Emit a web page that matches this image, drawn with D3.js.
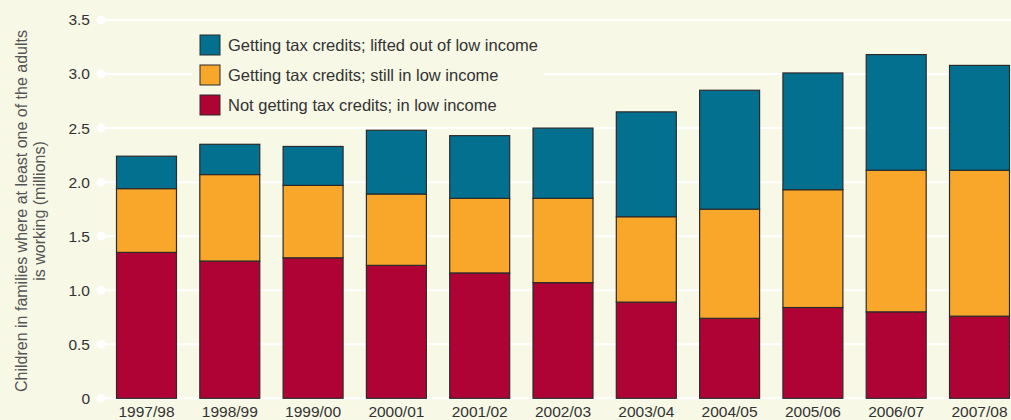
<!DOCTYPE html>
<html>
<head>
<meta charset="utf-8">
<script src="https://cdn.jsdelivr.net/npm/d3@7"></script>
<style>
  html, body { margin: 0; padding: 0; background: #f7f8e6; }
  svg { display: block; font-family: "Liberation Sans", Arial, sans-serif; }
</style>
</head>
<body>
<div id="chart"></div>
<script>
const years = ["1997/98", "1998/99", "1999/00", "2000/01", "2001/02", "2002/03",
               "2003/04", "2004/05", "2005/06", "2006/07", "2007/08"];
const notGetting = [1.35, 1.27, 1.30, 1.23, 1.16, 1.07, 0.89, 0.74, 0.84, 0.80, 0.76];
const stillLow   = [0.59, 0.80, 0.67, 0.66, 0.69, 0.78, 0.79, 1.01, 1.09, 1.31, 1.35];
const lifted     = [0.30, 0.28, 0.36, 0.59, 0.58, 0.65, 0.97, 1.10, 1.08, 1.07, 0.97];
const yTicks = [0, 0.5, 1.0, 1.5, 2.0, 2.5, 3.0, 3.5];
const seriesKeys = ["notGetting", "stillLow", "lifted"];
const seriesLabels = {
    lifted: "Getting tax credits; lifted out of low income",
    stillLow: "Getting tax credits; still in low income",
    notGetting: "Not getting tax credits; in low income"
};
const colors = {lifted: "#03708f", stillLow: "#f9a72b", notGetting: "#b00335"};

const width = 1011, height = 420;
const svg = d3.select("#chart").append("svg")
    .attr("width", width).attr("height", height);

svg.append("rect").attr("width", width).attr("height", height).attr("fill", "#f7f8e6");

const y = d3.scaleLinear().domain([0, 3.5]).range([398.3, 20]);
const x = d3.scaleBand().domain(years).range([116.5, 1009.5])
    .paddingInner(0.28).paddingOuter(0);

// grid
const grid = svg.append("g");
yTicks.forEach(t => {
    grid.append("line")
        .attr("x1", 101).attr("x2", width)
        .attr("y1", y(t)).attr("y2", y(t))
        .attr("stroke", "#ffffff").attr("stroke-width", 2);
    grid.append("circle")
        .attr("cx", 101).attr("cy", y(t)).attr("r", 4.5)
        .attr("fill", "#ffffff");
    grid.append("text")
        .attr("x", 90).attr("y", y(t)).attr("dy", "0.35em")
        .attr("text-anchor", "end")
        .style("font-size", "15.5px").style("fill", "#333")
        .text(t === 0 ? "0" : d3.format(".1f")(t));
});

// legend background
svg.append("rect")
    .attr("x", 192).attr("y", 28).attr("width", 352).attr("height", 94)
    .attr("fill", "#f7f8e6");

// bars
const table = years.map((yr, i) => ({
    year: yr, notGetting: notGetting[i], stillLow: stillLow[i], lifted: lifted[i]
}));
const stacked = d3.stack().keys(seriesKeys)(table);

svg.append("g").selectAll("g")
    .data(stacked)
    .join("g")
    .attr("fill", d => colors[d.key])
    .selectAll("rect")
    .data(d => d)
    .join("rect")
    .attr("x", d => x(d.data.year))
    .attr("width", x.bandwidth())
    .attr("y", d => y(d[1]))
    .attr("height", d => y(d[0]) - y(d[1]))
    .attr("stroke", "#2b2b2b")
    .attr("stroke-width", 1.2);

// x labels
svg.append("g").selectAll("text")
    .data(years)
    .join("text")
    .attr("x", d => x(d) + x.bandwidth() / 2)
    .attr("y", 417)
    .attr("text-anchor", "middle")
    .style("font-size", "15.5px").style("fill", "#333")
    .text(d => d);

// y title
const yTitle = svg.append("text")
    .attr("transform", "translate(27,211) rotate(-90)")
    .attr("text-anchor", "middle")
    .style("font-size", "16px").style("fill", "#555");
yTitle.append("tspan").attr("x", 0).attr("dy", 0)
    .text("Children in families where at least one of the adults");
yTitle.append("tspan").attr("x", 0).attr("dy", 18)
    .text("is working (millions)");

// legend
const legendOrder = ["lifted", "stillLow", "notGetting"];
const legend = svg.append("g").attr("transform", "translate(200,35)");
legendOrder.forEach((k, i) => {
    const g = legend.append("g").attr("transform", `translate(0,${i * 30})`);
    g.append("rect").attr("width", 20).attr("height", 20)
        .attr("fill", colors[k]).attr("stroke", "#2b2b2b").attr("stroke-width", 1);
    g.append("text").attr("x", 28).attr("y", 10).attr("dy", "0.35em")
        .style("font-size", "16.5px").style("fill", "#333")
        .text(seriesLabels[k]);
});
</script>
</body>
</html>
